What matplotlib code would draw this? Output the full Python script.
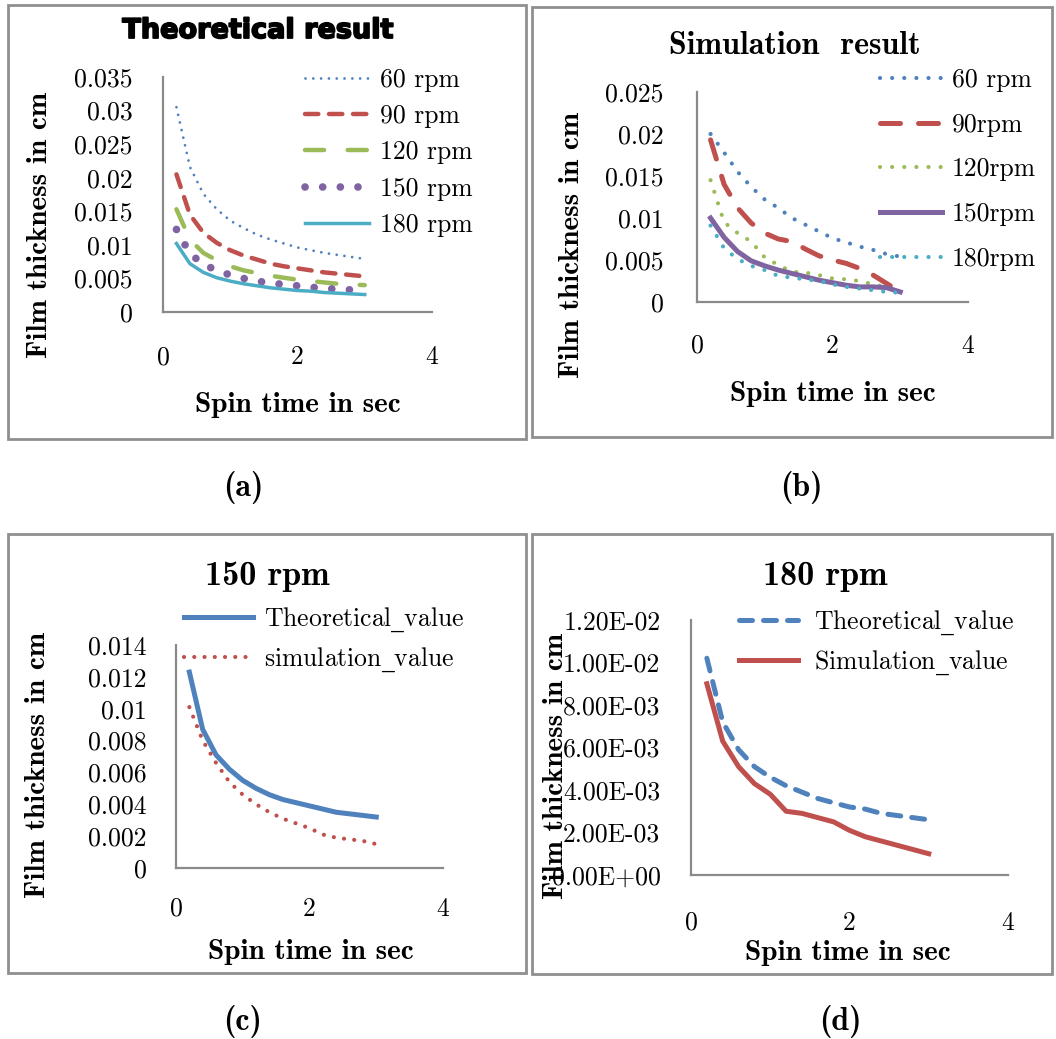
import numpy as np
import matplotlib
matplotlib.use("Agg")
import matplotlib.pyplot as plt
import matplotlib.patheffects as pe
from matplotlib.patches import Rectangle
from matplotlib.ticker import FuncFormatter

# spin time (s)
t = [0.2, 0.4, 0.6, 0.8, 1.0, 1.2, 1.4, 1.6, 1.8, 2.0, 2.2, 2.4, 2.6, 2.8, 3.0]

# theoretical film thickness (cm)
th_60 = [0.0305, 0.0216, 0.0176, 0.0153, 0.0136, 0.0125, 0.0115, 0.0108, 0.0102, 0.0096, 0.0092, 0.0088, 0.0085, 0.0082, 0.0079]
th_90 = [0.0205, 0.0145, 0.0118, 0.0103, 0.0092, 0.0084, 0.0078, 0.0072, 0.0068, 0.0065, 0.0062, 0.0059, 0.0057, 0.0055, 0.0053]
th_120 = [0.0153, 0.0108, 0.0088, 0.0077, 0.0068, 0.0062, 0.0058, 0.0054, 0.0051, 0.0048, 0.0046, 0.0044, 0.0042, 0.0041, 0.0040]
th_150 = [0.0123, 0.0087, 0.0071, 0.0062, 0.0055, 0.0050, 0.0046, 0.0043, 0.0041, 0.0039, 0.0037, 0.0035, 0.0034, 0.0033, 0.0032]
th_180 = [0.0102, 0.0072, 0.0059, 0.0051, 0.0046, 0.0042, 0.0039, 0.0036, 0.0034, 0.0032, 0.0031, 0.0029, 0.0028, 0.0027, 0.0026]

# simulated film thickness (cm)
sim_60 = [0.0200, 0.0178, 0.0155, 0.0137, 0.0122, 0.0112, 0.0100, 0.0092, 0.0084, 0.0076, 0.0071, 0.0066, 0.0062, 0.0057, 0.0054]
sim_90 = [0.0193, 0.0140, 0.0112, 0.0094, 0.0082, 0.0075, 0.0072, 0.0063, 0.0055, 0.0050, 0.0046, 0.0040, 0.0032, 0.0022, 0.0012]
sim_120 = [0.0145, 0.0095, 0.0082, 0.0072, 0.0053, 0.0044, 0.0036, 0.0035, 0.0032, 0.0028, 0.0027, 0.0025, 0.0021, 0.0018, 0.0012]
sim_150 = [0.0100, 0.0077, 0.0060, 0.0049, 0.0043, 0.0038, 0.0034, 0.0030, 0.0026, 0.0023, 0.0020, 0.0018, 0.0018, 0.0017, 0.0012]
sim_180 = [0.0091, 0.0064, 0.0051, 0.0043, 0.0038, 0.0031, 0.0029, 0.0027, 0.0025, 0.0021, 0.0018, 0.0016, 0.0014, 0.0012, 0.0011]
sim_150c = [0.0101, 0.0080, 0.0066, 0.0054, 0.0046, 0.0040, 0.0035, 0.0031, 0.0028, 0.0025, 0.0021, 0.0019, 0.0018, 0.0017, 0.0015]
sim_180d = [0.0090, 0.0063, 0.0051, 0.0043, 0.0038, 0.0030, 0.0029, 0.0027, 0.0025, 0.0021, 0.0018, 0.0016, 0.0014, 0.0012, 0.0010]

labels_a = ["60 rpm", "90 rpm", "120 rpm", "150 rpm", "180 rpm"]
labels_b = ["60 rpm", "90rpm", "120rpm", "150rpm", "180rpm"]
# cmr10 has no real underscore glyph, so the "_" goes through mathtext
labels_c = [r"Theoretical$\_$value", r"simulation$\_$value"]
labels_d = [r"Theoretical$\_$value", r"Simulation$\_$value"]

BLUE, RED, GREEN, PURPLE, CYAN = "#4F81BD", "#C0504D", "#9BBB59", "#8064A2", "#4BACC6"

W, H = 1056, 1039
plt.rcParams['font.family'] = ['cmr10', 'DejaVu Serif']
plt.rcParams['axes.unicode_minus'] = False
plt.rcParams['mathtext.fontset'] = 'custom'
plt.rcParams['mathtext.rm'] = 'DejaVu Serif'
plt.rcParams['mathtext.it'] = 'DejaVu Serif'
fig = plt.figure(figsize=(W / 100, H / 100), dpi=100)
FS = 18.5
LB = 21
BOLD = ['cmb10', 'DejaVu Serif']


def fx(x):
    return x / W


def fy(y):
    return 1 - y / H


def box(l, t, r, b):
    fig.patches.append(Rectangle((fx(l), fy(b)), fx(r - l), (b - t) / H, transform=fig.transFigure,
                                 fill=False, edgecolor="#8f8f8f", lw=2))


def mkax(l, t, r, b, ylim, yticks, fmt, xpad, ypad):
    ax = fig.add_axes([fx(l), fy(b), fx(r - l), (b - t) / H])
    ax.set_xlim(0, 4)
    ax.set_ylim(*ylim)
    ax.set_xticks([0, 2, 4])
    ax.set_yticks(yticks)
    ax.yaxis.set_major_formatter(FuncFormatter(fmt))
    for s in ["top", "right"]:
        ax.spines[s].set_visible(False)
    for s in ["left", "bottom"]:
        ax.spines[s].set_color("#8a8a8a")
        ax.spines[s].set_linewidth(1.6)
    ax.tick_params(length=0, labelsize=FS)
    ax.tick_params(axis="x", pad=xpad)
    ax.tick_params(axis="y", pad=ypad)
    ax.patch.set_alpha(0)
    return ax


def dots(gap):
    return (0, (0.01, gap))


def leg(ax, x, y, hl, sp, pad=0.4):
    ax.legend(loc="upper left", bbox_to_anchor=(fx(x), fy(y)), bbox_transform=fig.transFigure,
              frameon=False, fontsize=FS, handlelength=hl, handletextpad=pad, labelspacing=sp,
              borderpad=0, borderaxespad=0)


def labels(ylx, yly, xlx, xly, tag, tx, ty):
    fig.text(fx(ylx), fy(yly), "Film thickness in cm", rotation=90, ha="center", va="center",
             fontsize=LB, family=BOLD)
    fig.text(fx(xlx), fy(xly), "Spin time in sec", ha="center", va="center", fontsize=LB, family=BOLD)
    fig.text(fx(tx), fy(ty), tag, ha="center", va="center", fontsize=23, family=BOLD)


gfmt = lambda v, p: "0" if abs(v) < 1e-12 else f"{v:g}"
efmt = lambda v, p: f"{v:.2E}"

# panel boxes
box(8, 5, 526, 439)
box(532, 7, 1052, 437)
box(8, 534, 526, 973)
box(532, 534, 1052, 974)

# (a) theoretical
ax = mkax(163, 77, 432, 312, (0, 0.035), np.arange(0, 0.0351, 0.005), gfmt, 24, 22)
ax.plot(t, th_60, color=BLUE, lw=2, ls=dots(2.8), dash_capstyle="round", label=labels_a[0])
ax.plot(t, th_90, color=RED, lw=3.2, ls=(0, (3, 2.4)), dash_capstyle="round", label=labels_a[1])
ax.plot(t, th_120, color=GREEN, lw=3.2, ls=(0, (4.3, 5.3)), dash_capstyle="round", label=labels_a[2])
ax.plot(t, th_150, color=PURPLE, lw=5.5, ls=dots(2.3), dash_capstyle="round", label=labels_a[3])
ax.plot(t, th_180, color=CYAN, lw=2.5, label=labels_a[4])
leg(ax, 305, 68, 2.5, 0.49)
fig.text(fx(258), fy(31), "Theoretical result", ha="center", va="center", fontsize=19.5,
         family="DejaVu Sans", fontweight="bold",
         path_effects=[pe.withStroke(linewidth=1.3, foreground="black")])
labels(40, 225, 298, 405, "(a)", 243, 487)

# (b) simulation
ax = mkax(697, 92, 968, 302, (0, 0.025), np.arange(0, 0.0251, 0.005), gfmt, 23, 24)
ax.plot(t, sim_60, color=BLUE, lw=3, ls=dots(2.9), dash_capstyle="round", label=labels_b[0])
ax.plot(t, sim_90, color=RED, lw=3.6, ls=(0, (4, 3.6)), dash_capstyle="round", label=labels_b[1])
ax.plot(t, sim_120, color=GREEN, lw=3, ls=dots(2.9), dash_capstyle="round", label=labels_b[2])
ax.plot(t, sim_150, color=PURPLE, lw=3.6, label=labels_b[3])
ax.plot(t, sim_180, color=CYAN, lw=3, ls=dots(2.9), dash_capstyle="round", label=labels_b[4])
leg(ax, 880, 68, 2.4, 0.82)
fig.text(fx(795), fy(45), "Simulation  result", ha="center", va="center", fontsize=23, family=BOLD)
labels(572, 245, 833, 394, "(b)", 801, 487)

# (c) 150 rpm
ax = mkax(176, 645, 443, 868, (0, 0.014), np.arange(0, 0.01401, 0.002), gfmt, 21, 21)
ax.plot(t, th_150, color=BLUE, lw=3.6, label=labels_c[0])
ax.plot(t, sim_150c, color=RED, lw=3, ls=dots(2.45), dash_capstyle="round", label=labels_c[1])
leg(ax, 184, 606, 2.7, 0.44)
fig.text(fx(267), fy(577), "150 rpm", ha="center", va="center", fontsize=24.5, family=BOLD)
labels(38, 765, 311, 952, "(c)", 243, 1022)

# (d) 180 rpm
ax = mkax(691, 620, 1008, 875, (0, 0.012), np.arange(0, 0.01201, 0.002), efmt, 26, 22)
ax.plot(t, th_180, color=BLUE, lw=3.6, ls=(0, (2.6, 2.2)), dash_capstyle="round", label=labels_d[0])
ax.plot(t, sim_180d, color=RED, lw=3.6, label=labels_d[1])
leg(ax, 739, 609, 2.3, 0.44, pad=0.6)
fig.text(fx(825), fy(577), "180 rpm", ha="center", va="center", fontsize=24.5, family=BOLD)
labels(556, 766, 848, 953, "(d)", 840, 1022)

fig.savefig("out.png", dpi=100)
